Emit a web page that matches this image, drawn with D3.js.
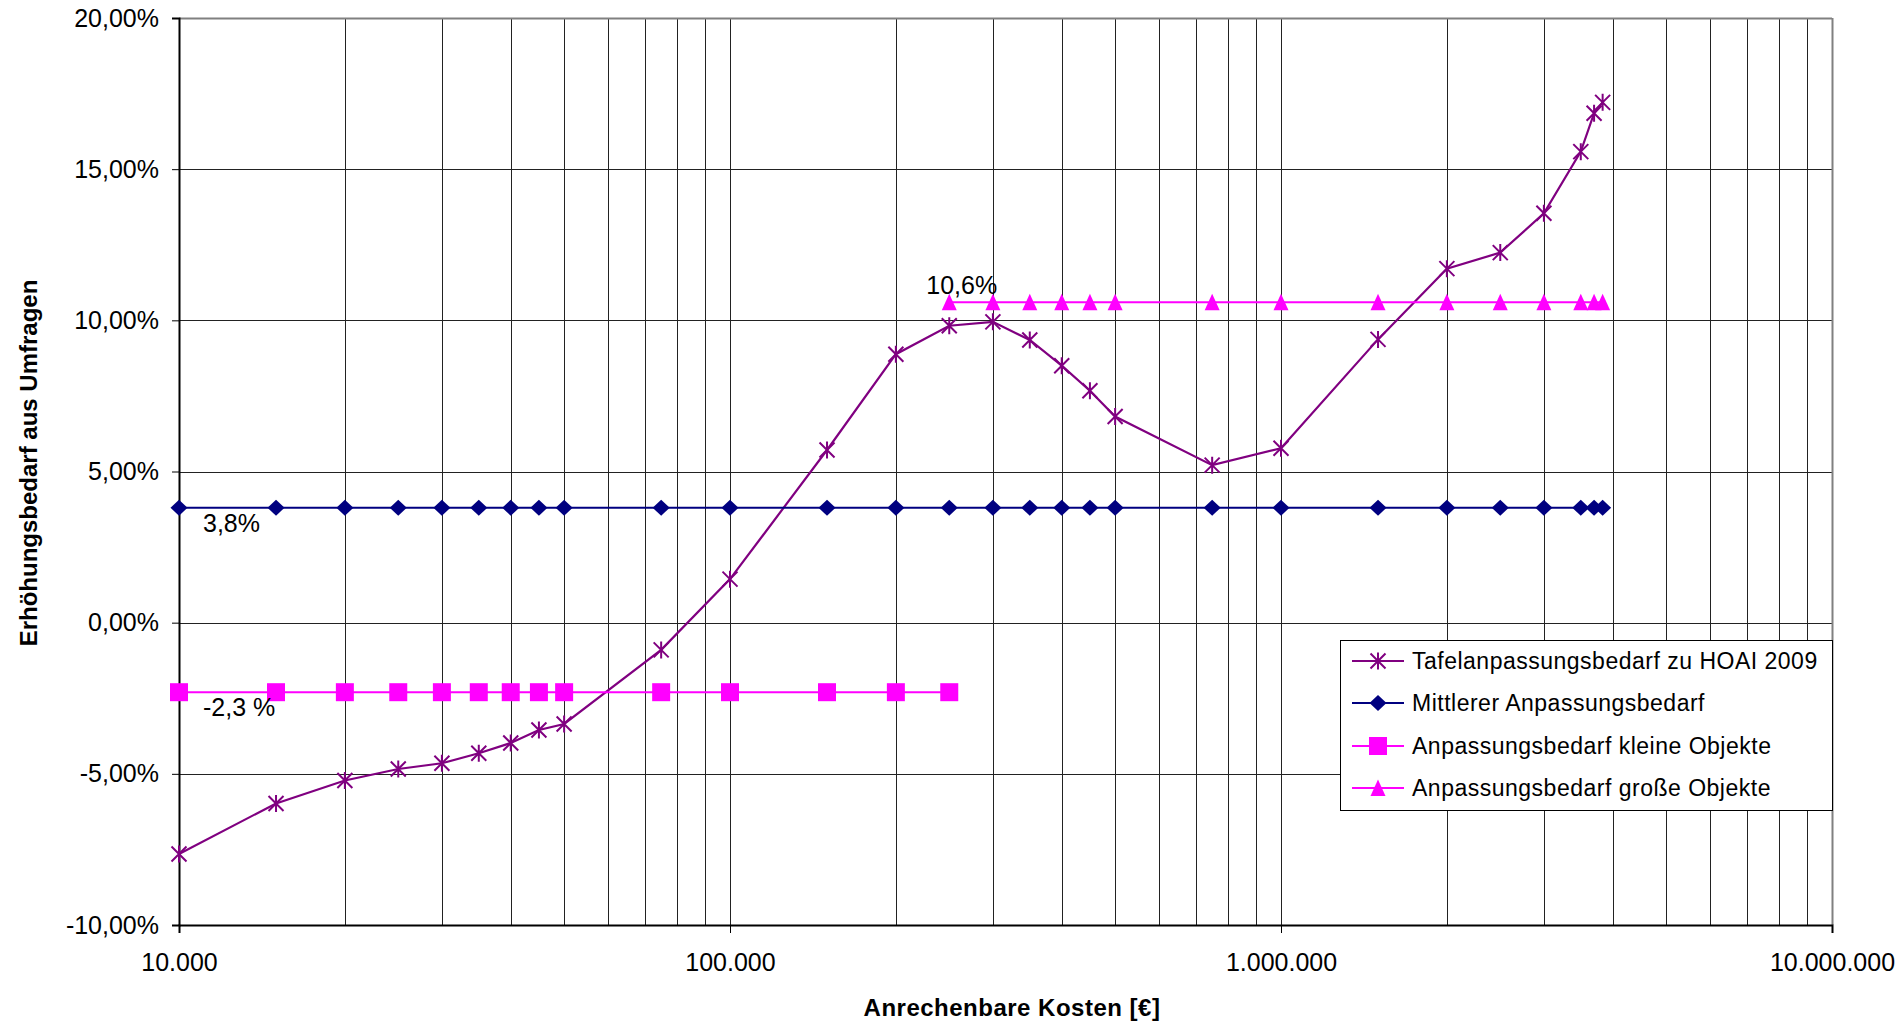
<!DOCTYPE html>
<html>
<head>
<meta charset="utf-8">
<script src="https://cdn.jsdelivr.net/npm/d3@7"></script>
<style>
  html, body { margin: 0; padding: 0; background: #fff; }
  svg { display: block; }
  text { font-family: "Liberation Sans", Arial, sans-serif; fill: #000; }
</style>
</head>
<body>
<svg id="chart" width="1901" height="1025"></svg>
<script>
// ---------- data ----------
const costs = [10000, 15000, 20000, 25000, 30000, 35000, 40000, 45000, 50000, 75000,
  100000, 150000, 200000, 250000, 300000, 350000, 400000, 450000, 500000, 750000,
  1000000, 1500000, 2000000, 2500000, 3000000, 3500000, 3700000, 3834689];
const tafel = [-7.65, -5.98, -5.22, -4.84, -4.65, -4.32, -3.98, -3.55, -3.35, -0.90,
  1.44, 5.71, 8.88, 9.82, 9.95, 9.35, 8.50, 7.67, 6.82, 5.21,
  5.77, 9.37, 11.71, 12.24, 13.54, 15.58, 16.85, 17.21];
const mittel = [3.8, 3.8, 3.8, 3.8, 3.8, 3.8, 3.8, 3.8, 3.8, 3.8,
  3.8, 3.8, 3.8, 3.8, 3.8, 3.8, 3.8, 3.8, 3.8, 3.8,
  3.8, 3.8, 3.8, 3.8, 3.8, 3.8, 3.8, 3.8];
const kleineCosts = [10000, 15000, 20000, 25000, 30000, 35000, 40000, 45000, 50000, 75000,
  100000, 150000, 200000, 250000];
const kleine = [-2.3, -2.3, -2.3, -2.3, -2.3, -2.3, -2.3, -2.3, -2.3, -2.3, -2.3, -2.3, -2.3, -2.3];
const grosseCosts = [250000, 300000, 350000, 400000, 450000, 500000, 750000, 1000000,
  1500000, 2000000, 2500000, 3000000, 3500000, 3700000, 3834689];
const grosse = [10.6, 10.6, 10.6, 10.6, 10.6, 10.6, 10.6, 10.6, 10.6, 10.6, 10.6, 10.6, 10.6, 10.6, 10.6];

const xTickValues = [10000, 100000, 1000000, 10000000];
const yTickValues = [-10, -5, 0, 5, 10, 15, 20];

const seriesNames = ["Tafelanpassungsbedarf zu HOAI 2009", "Mittlerer Anpassungsbedarf",
  "Anpassungsbedarf kleine Objekte", "Anpassungsbedarf große Objekte"];
const seriesColors = ["#800080", "#000080", "#FF00FF", "#FF00FF"];

const annotations = [
  { text: "3,8%", x: 10000, y: 3.8 },
  { text: "-2,3 %", x: 10000, y: -2.3 },
  { text: "10,6%", x: 250000, y: 10.6 }
];

const xTitle = "Anrechenbare Kosten [€]";
const yTitle = "Erhöhungsbedarf aus Umfragen";

// ---------- layout ----------
const L = 179, R = 1832, T = 18, B = 925;
const svg = d3.select("#chart");

const x = d3.scaleLog().domain([1e4, 1e7]).range([L, R]);
const y = d3.scaleLinear().domain([-10, 20]).range([B, T]);

const de = d3.formatLocale({ decimal: ",", thousands: ".", grouping: [3], currency: ["", " €"], minus: "-" });
const fmtX = de.format(",d");
const fmtY = d => de.format(".2f")(d) + "%";

// grid
const grid = svg.append("g");
grid.selectAll("line.v").data(x.ticks()).join("line")
  .attr("x1", d => Math.round(x(d)) + 0.5).attr("x2", d => Math.round(x(d)) + 0.5)
  .attr("y1", T).attr("y2", B)
  .attr("stroke", d => (d === 1e7 ? "#808080" : "#222")).attr("stroke-width", 1);
grid.selectAll("line.h").data(yTickValues).join("line")
  .attr("x1", L).attr("x2", R)
  .attr("y1", d => Math.round(y(d)) + 0.5).attr("y2", d => Math.round(y(d)) + 0.5)
  .attr("stroke", d => (d === 20 ? "#808080" : "#222")).attr("stroke-width", d => d === 20 ? 2 : 1);
// right border
svg.append("line").attr("x1", R + 0.5).attr("x2", R + 0.5).attr("y1", T).attr("y2", B)
  .attr("stroke", "#808080").attr("stroke-width", 2);

// axes
const yAxis = d3.axisLeft(y).tickValues(yTickValues).tickFormat(fmtY).tickSize(7).tickPadding(13);
const gy = svg.append("g").attr("transform", `translate(${L},0)`).call(yAxis);
gy.select(".domain").attr("stroke", "#000").attr("stroke-width", 2);
gy.selectAll(".tick line").attr("stroke", "#000");
gy.selectAll("text").attr("font-size", 25).attr("font-family", "Liberation Sans, Arial, sans-serif").attr("fill", "#000");

const xAxis = d3.axisBottom(x).tickValues(xTickValues).tickFormat(fmtX).tickSize(8).tickPadding(20);
const gx = svg.append("g").attr("transform", `translate(0,${B})`).call(xAxis);
gx.select(".domain").attr("stroke", "#000").attr("stroke-width", 2);
gx.selectAll(".tick line").attr("stroke", "#000");
gx.selectAll("text").attr("font-size", 25).attr("font-family", "Liberation Sans, Arial, sans-serif").attr("fill", "#000");

// titles
svg.append("text").attr("x", 1012).attr("y", 1016).attr("text-anchor", "middle")
  .attr("font-size", 24).attr("font-weight", "bold").attr("letter-spacing", 0.5).text(xTitle);
svg.append("text").attr("transform", "translate(37,463) rotate(-90)").attr("text-anchor", "middle")
  .attr("font-size", 24).attr("font-weight", "bold").text(yTitle);

// markers
const markerPaths = {
  star: "M-7.5,-7.5L7.5,7.5M-7.5,7.5L7.5,-7.5M0,-8.5L0,8.5",
  diamond: "M0,-8L8.5,0L0,8L-8.5,0Z",
  square: "M-9,-9H9V9H-9Z",
  triangle: "M0,-8.5L7.5,8H-7.5Z"
};

const line = d3.line().x(d => x(d[0])).y(d => y(d[1]));

function drawSeries(xs, ys, color, width, marker) {
  const pts = xs.map((c, i) => [c, ys[i]]);
  const g = svg.append("g");
  g.append("path").datum(pts).attr("d", line).attr("fill", "none")
    .attr("stroke", color).attr("stroke-width", width);
  g.selectAll("path.m").data(pts).join("path").attr("class", "m")
    .attr("transform", d => `translate(${x(d[0])},${y(d[1])})`)
    .attr("d", markerPaths[marker])
    .attr("fill", marker === "star" ? "none" : color)
    .attr("stroke", color).attr("stroke-width", marker === "star" ? 2 : 0);
}

drawSeries(costs, tafel, seriesColors[0], 2.2, "star");
drawSeries(costs, mittel, seriesColors[1], 2, "diamond");
drawSeries(kleineCosts, kleine, seriesColors[2], 2, "square");
drawSeries(grosseCosts, grosse, seriesColors[3], 2, "triangle");

// annotations
const annOffsets = [[24, 24], [24, 24], [-23, -8]];
annotations.forEach((a, i) => {
  svg.append("text").attr("x", x(a.x) + annOffsets[i][0]).attr("y", y(a.y) + annOffsets[i][1])
    .attr("font-size", 25).text(a.text);
});

// legend
const lg = svg.append("g");
lg.append("rect").attr("x", 1340.5).attr("y", 640.5).attr("width", 492).attr("height", 170)
  .attr("fill", "#fff").attr("stroke", "#000").attr("stroke-width", 1);
const legendMarkers = ["star", "diamond", "square", "triangle"];
const rowY = [661, 703, 746, 788];
seriesNames.forEach((name, i) => {
  const ry = rowY[i];
  lg.append("line").attr("x1", 1352).attr("x2", 1404).attr("y1", ry).attr("y2", ry)
    .attr("stroke", seriesColors[i]).attr("stroke-width", 2);
  lg.append("path").attr("transform", `translate(1378,${ry})`).attr("d", markerPaths[legendMarkers[i]])
    .attr("fill", legendMarkers[i] === "star" ? "none" : seriesColors[i])
    .attr("stroke", seriesColors[i]).attr("stroke-width", legendMarkers[i] === "star" ? 2 : 0);
  lg.append("text").attr("x", 1412).attr("y", ry + 8).attr("font-size", 23)
    .attr("letter-spacing", 0.5).text(name);
});
</script>
</body>
</html>
